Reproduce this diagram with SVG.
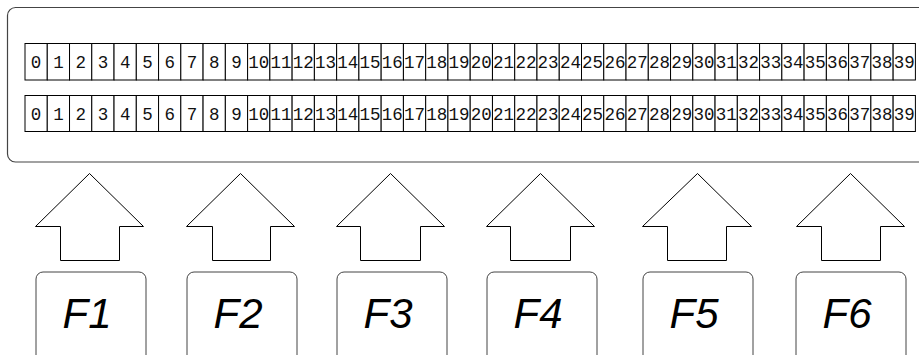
<svg xmlns="http://www.w3.org/2000/svg" width="919" height="355" viewBox="0 0 919 355">
<style>
.frame{fill:#fff;stroke:#444;stroke-width:1.2}
.cell{fill:#fff;stroke:#000;stroke-width:1}
.num{font-family:"Liberation Mono","Courier New",monospace;font-size:17.5px;fill:#111;text-anchor:middle}
.arrow{fill:#fff;stroke:#000;stroke-width:1}
.key{fill:#fff;stroke:#444;stroke-width:1}
.klabel{font-family:"Liberation Sans",Arial,sans-serif;font-style:italic;font-size:42px;fill:#000;text-anchor:middle}
</style>
<rect width="919" height="355" fill="#fff"/>
<g id="display">
<rect class="frame" x="7.5" y="7.5" width="930" height="154.5" rx="8"/>
<g id="row1">
<rect class="cell" x="25.00" y="43.5" width="22.26" height="36.5"/><text class="num" x="36.1" y="67.5">0</text>
<rect class="cell" x="47.26" y="43.5" width="22.26" height="36.5"/><text class="num" x="58.4" y="67.5">1</text>
<rect class="cell" x="69.52" y="43.5" width="22.26" height="36.5"/><text class="num" x="80.7" y="67.5">2</text>
<rect class="cell" x="91.78" y="43.5" width="22.26" height="36.5"/><text class="num" x="102.9" y="67.5">3</text>
<rect class="cell" x="114.04" y="43.5" width="22.26" height="36.5"/><text class="num" x="125.2" y="67.5">4</text>
<rect class="cell" x="136.30" y="43.5" width="22.26" height="36.5"/><text class="num" x="147.4" y="67.5">5</text>
<rect class="cell" x="158.56" y="43.5" width="22.26" height="36.5"/><text class="num" x="169.7" y="67.5">6</text>
<rect class="cell" x="180.82" y="43.5" width="22.26" height="36.5"/><text class="num" x="192.0" y="67.5">7</text>
<rect class="cell" x="203.08" y="43.5" width="22.26" height="36.5"/><text class="num" x="214.2" y="67.5">8</text>
<rect class="cell" x="225.34" y="43.5" width="22.26" height="36.5"/><text class="num" x="236.5" y="67.5">9</text>
<rect class="cell" x="247.60" y="43.5" width="22.26" height="36.5"/><text class="num" x="258.7" y="67.5">10</text>
<rect class="cell" x="269.86" y="43.5" width="22.26" height="36.5"/><text class="num" x="281.0" y="67.5">11</text>
<rect class="cell" x="292.12" y="43.5" width="22.26" height="36.5"/><text class="num" x="303.3" y="67.5">12</text>
<rect class="cell" x="314.38" y="43.5" width="22.26" height="36.5"/><text class="num" x="325.5" y="67.5">13</text>
<rect class="cell" x="336.64" y="43.5" width="22.26" height="36.5"/><text class="num" x="347.8" y="67.5">14</text>
<rect class="cell" x="358.90" y="43.5" width="22.26" height="36.5"/><text class="num" x="370.0" y="67.5">15</text>
<rect class="cell" x="381.16" y="43.5" width="22.26" height="36.5"/><text class="num" x="392.3" y="67.5">16</text>
<rect class="cell" x="403.42" y="43.5" width="22.26" height="36.5"/><text class="num" x="414.6" y="67.5">17</text>
<rect class="cell" x="425.68" y="43.5" width="22.26" height="36.5"/><text class="num" x="436.8" y="67.5">18</text>
<rect class="cell" x="447.94" y="43.5" width="22.26" height="36.5"/><text class="num" x="459.1" y="67.5">19</text>
<rect class="cell" x="470.20" y="43.5" width="22.26" height="36.5"/><text class="num" x="481.3" y="67.5">20</text>
<rect class="cell" x="492.46" y="43.5" width="22.26" height="36.5"/><text class="num" x="503.6" y="67.5">21</text>
<rect class="cell" x="514.72" y="43.5" width="22.26" height="36.5"/><text class="num" x="525.9" y="67.5">22</text>
<rect class="cell" x="536.98" y="43.5" width="22.26" height="36.5"/><text class="num" x="548.1" y="67.5">23</text>
<rect class="cell" x="559.24" y="43.5" width="22.26" height="36.5"/><text class="num" x="570.4" y="67.5">24</text>
<rect class="cell" x="581.50" y="43.5" width="22.26" height="36.5"/><text class="num" x="592.6" y="67.5">25</text>
<rect class="cell" x="603.76" y="43.5" width="22.26" height="36.5"/><text class="num" x="614.9" y="67.5">26</text>
<rect class="cell" x="626.02" y="43.5" width="22.26" height="36.5"/><text class="num" x="637.2" y="67.5">27</text>
<rect class="cell" x="648.28" y="43.5" width="22.26" height="36.5"/><text class="num" x="659.4" y="67.5">28</text>
<rect class="cell" x="670.54" y="43.5" width="22.26" height="36.5"/><text class="num" x="681.7" y="67.5">29</text>
<rect class="cell" x="692.80" y="43.5" width="22.26" height="36.5"/><text class="num" x="703.9" y="67.5">30</text>
<rect class="cell" x="715.06" y="43.5" width="22.26" height="36.5"/><text class="num" x="726.2" y="67.5">31</text>
<rect class="cell" x="737.32" y="43.5" width="22.26" height="36.5"/><text class="num" x="748.5" y="67.5">32</text>
<rect class="cell" x="759.58" y="43.5" width="22.26" height="36.5"/><text class="num" x="770.7" y="67.5">33</text>
<rect class="cell" x="781.84" y="43.5" width="22.26" height="36.5"/><text class="num" x="793.0" y="67.5">34</text>
<rect class="cell" x="804.10" y="43.5" width="22.26" height="36.5"/><text class="num" x="815.2" y="67.5">35</text>
<rect class="cell" x="826.36" y="43.5" width="22.26" height="36.5"/><text class="num" x="837.5" y="67.5">36</text>
<rect class="cell" x="848.62" y="43.5" width="22.26" height="36.5"/><text class="num" x="859.8" y="67.5">37</text>
<rect class="cell" x="870.88" y="43.5" width="22.26" height="36.5"/><text class="num" x="882.0" y="67.5">38</text>
<rect class="cell" x="893.14" y="43.5" width="22.26" height="36.5"/><text class="num" x="904.3" y="67.5">39</text>
</g>
<g id="row2">
<rect class="cell" x="25.00" y="95.5" width="22.26" height="36"/><text class="num" x="36.1" y="119.5">0</text>
<rect class="cell" x="47.26" y="95.5" width="22.26" height="36"/><text class="num" x="58.4" y="119.5">1</text>
<rect class="cell" x="69.52" y="95.5" width="22.26" height="36"/><text class="num" x="80.7" y="119.5">2</text>
<rect class="cell" x="91.78" y="95.5" width="22.26" height="36"/><text class="num" x="102.9" y="119.5">3</text>
<rect class="cell" x="114.04" y="95.5" width="22.26" height="36"/><text class="num" x="125.2" y="119.5">4</text>
<rect class="cell" x="136.30" y="95.5" width="22.26" height="36"/><text class="num" x="147.4" y="119.5">5</text>
<rect class="cell" x="158.56" y="95.5" width="22.26" height="36"/><text class="num" x="169.7" y="119.5">6</text>
<rect class="cell" x="180.82" y="95.5" width="22.26" height="36"/><text class="num" x="192.0" y="119.5">7</text>
<rect class="cell" x="203.08" y="95.5" width="22.26" height="36"/><text class="num" x="214.2" y="119.5">8</text>
<rect class="cell" x="225.34" y="95.5" width="22.26" height="36"/><text class="num" x="236.5" y="119.5">9</text>
<rect class="cell" x="247.60" y="95.5" width="22.26" height="36"/><text class="num" x="258.7" y="119.5">10</text>
<rect class="cell" x="269.86" y="95.5" width="22.26" height="36"/><text class="num" x="281.0" y="119.5">11</text>
<rect class="cell" x="292.12" y="95.5" width="22.26" height="36"/><text class="num" x="303.3" y="119.5">12</text>
<rect class="cell" x="314.38" y="95.5" width="22.26" height="36"/><text class="num" x="325.5" y="119.5">13</text>
<rect class="cell" x="336.64" y="95.5" width="22.26" height="36"/><text class="num" x="347.8" y="119.5">14</text>
<rect class="cell" x="358.90" y="95.5" width="22.26" height="36"/><text class="num" x="370.0" y="119.5">15</text>
<rect class="cell" x="381.16" y="95.5" width="22.26" height="36"/><text class="num" x="392.3" y="119.5">16</text>
<rect class="cell" x="403.42" y="95.5" width="22.26" height="36"/><text class="num" x="414.6" y="119.5">17</text>
<rect class="cell" x="425.68" y="95.5" width="22.26" height="36"/><text class="num" x="436.8" y="119.5">18</text>
<rect class="cell" x="447.94" y="95.5" width="22.26" height="36"/><text class="num" x="459.1" y="119.5">19</text>
<rect class="cell" x="470.20" y="95.5" width="22.26" height="36"/><text class="num" x="481.3" y="119.5">20</text>
<rect class="cell" x="492.46" y="95.5" width="22.26" height="36"/><text class="num" x="503.6" y="119.5">21</text>
<rect class="cell" x="514.72" y="95.5" width="22.26" height="36"/><text class="num" x="525.9" y="119.5">22</text>
<rect class="cell" x="536.98" y="95.5" width="22.26" height="36"/><text class="num" x="548.1" y="119.5">23</text>
<rect class="cell" x="559.24" y="95.5" width="22.26" height="36"/><text class="num" x="570.4" y="119.5">24</text>
<rect class="cell" x="581.50" y="95.5" width="22.26" height="36"/><text class="num" x="592.6" y="119.5">25</text>
<rect class="cell" x="603.76" y="95.5" width="22.26" height="36"/><text class="num" x="614.9" y="119.5">26</text>
<rect class="cell" x="626.02" y="95.5" width="22.26" height="36"/><text class="num" x="637.2" y="119.5">27</text>
<rect class="cell" x="648.28" y="95.5" width="22.26" height="36"/><text class="num" x="659.4" y="119.5">28</text>
<rect class="cell" x="670.54" y="95.5" width="22.26" height="36"/><text class="num" x="681.7" y="119.5">29</text>
<rect class="cell" x="692.80" y="95.5" width="22.26" height="36"/><text class="num" x="703.9" y="119.5">30</text>
<rect class="cell" x="715.06" y="95.5" width="22.26" height="36"/><text class="num" x="726.2" y="119.5">31</text>
<rect class="cell" x="737.32" y="95.5" width="22.26" height="36"/><text class="num" x="748.5" y="119.5">32</text>
<rect class="cell" x="759.58" y="95.5" width="22.26" height="36"/><text class="num" x="770.7" y="119.5">33</text>
<rect class="cell" x="781.84" y="95.5" width="22.26" height="36"/><text class="num" x="793.0" y="119.5">34</text>
<rect class="cell" x="804.10" y="95.5" width="22.26" height="36"/><text class="num" x="815.2" y="119.5">35</text>
<rect class="cell" x="826.36" y="95.5" width="22.26" height="36"/><text class="num" x="837.5" y="119.5">36</text>
<rect class="cell" x="848.62" y="95.5" width="22.26" height="36"/><text class="num" x="859.8" y="119.5">37</text>
<rect class="cell" x="870.88" y="95.5" width="22.26" height="36"/><text class="num" x="882.0" y="119.5">38</text>
<rect class="cell" x="893.14" y="95.5" width="22.26" height="36"/><text class="num" x="904.3" y="119.5">39</text>
</g>
</g>
<g id="connectors">
<polygon class="arrow" points="89.5,173.5 143.5,226.5 119.5,226.5 119.5,260.5 60.5,260.5 60.5,226.5 35.5,226.5"/>
<polygon class="arrow" points="240.5,173.5 294.5,226.5 270.5,226.5 270.5,260.5 212.5,260.5 212.5,226.5 186.5,226.5"/>
<polygon class="arrow" points="390.5,173.5 444.5,226.5 420.5,226.5 420.5,260.5 360.5,260.5 360.5,226.5 336.5,226.5"/>
<polygon class="arrow" points="540.5,173.5 594.5,226.5 570.5,226.5 570.5,260.5 510.5,260.5 510.5,226.5 486.5,226.5"/>
<polygon class="arrow" points="697.5,173.5 751.5,226.5 726.5,226.5 726.5,260.5 667.5,260.5 667.5,226.5 642.5,226.5"/>
<polygon class="arrow" points="850.5,173.5 904.5,226.5 880.5,226.5 880.5,260.5 821.5,260.5 821.5,226.5 796.5,226.5"/>
</g>
<g id="F1"><rect class="key" x="36" y="272" width="110" height="100" rx="7"/><text class="klabel" x="87" y="328">F1</text></g>
<g id="F2"><rect class="key" x="187" y="272" width="110" height="100" rx="7"/><text class="klabel" x="238" y="328">F2</text></g>
<g id="F3"><rect class="key" x="337" y="272" width="110" height="100" rx="7"/><text class="klabel" x="388" y="328">F3</text></g>
<g id="F4"><rect class="key" x="487" y="272" width="110" height="100" rx="7"/><text class="klabel" x="538" y="328">F4</text></g>
<g id="F5"><rect class="key" x="643" y="272" width="110" height="100" rx="7"/><text class="klabel" x="694" y="328">F5</text></g>
<g id="F6"><rect class="key" x="796" y="272" width="110" height="100" rx="7"/><text class="klabel" x="847" y="328">F6</text></g>
</svg>
